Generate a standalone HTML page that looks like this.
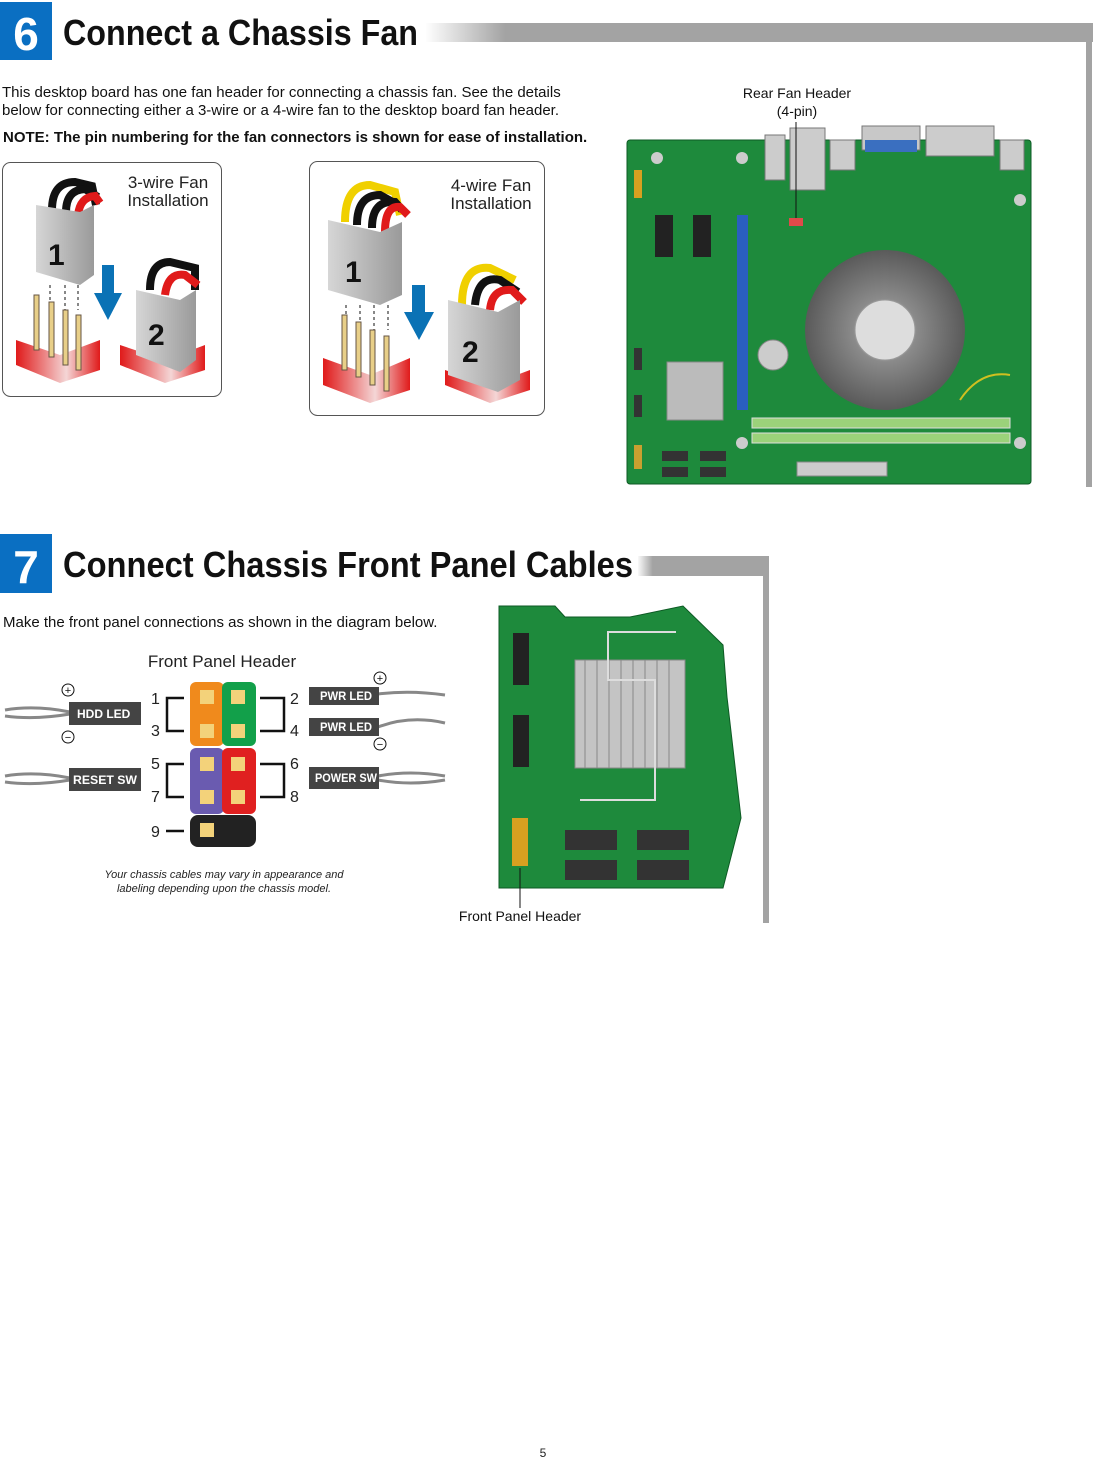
<!DOCTYPE html>
<html><head><meta charset="utf-8"><style>
html,body{margin:0;padding:0;background:#fff;}
svg{display:block;font-family:"Liberation Sans",sans-serif;}
</style></head><body>
<svg width="1093" height="1458" viewBox="0 0 1093 1458" xmlns="http://www.w3.org/2000/svg">
<defs>
<linearGradient id="bar" x1="0" x2="1" y1="0" y2="0"><stop offset="0" stop-color="#fff"/><stop offset="0.12" stop-color="#a3a3a3"/><stop offset="1" stop-color="#a3a3a3"/></linearGradient>
<linearGradient id="red" x1="0" x2="1"><stop offset="0" stop-color="#e01a1a"/><stop offset="0.6" stop-color="#f4d6d6"/><stop offset="1" stop-color="#e01a1a"/></linearGradient>
<linearGradient id="gry" x1="0" x2="1"><stop offset="0" stop-color="#d6d6d6"/><stop offset="1" stop-color="#9a9a9a"/></linearGradient>
<radialGradient id="fan" cx="0.5" cy="0.5" r="0.5"><stop offset="0" stop-color="#e8e8e8"/><stop offset="0.4" stop-color="#8a8a8a"/><stop offset="1" stop-color="#5a5a5a"/></radialGradient>
</defs>

<!-- Section 6 header -->
<rect x="0" y="2" width="52" height="58" fill="#0a6fc2"/>
<text x="26" y="50" text-anchor="middle" font-size="46" fill="#fff" font-weight="bold">6</text>
<rect x="425" y="23" width="668" height="19" fill="url(#bar)"/>
<rect x="1086" y="23" width="6" height="464" fill="#a3a3a3"/>
<rect x="60" y="5" width="366" height="50" fill="#fff"/>
<text x="63" y="45" font-size="36" font-weight="bold" fill="#111" textLength="355" lengthAdjust="spacingAndGlyphs">Connect a Chassis Fan</text>

<text x="2" y="97" font-size="15" fill="#111">This desktop board has one fan header for connecting a chassis fan. See the details</text>
<text x="2" y="115" font-size="15" fill="#111">below for connecting either a 3-wire or a 4-wire fan to the desktop board fan header.</text>
<text x="3" y="142" font-size="15" font-weight="bold" fill="#111">NOTE:  The pin numbering for the fan connectors is shown for ease of installation.</text>

<!-- 3-wire box -->
<rect x="2.5" y="162.5" width="219" height="234" rx="8" fill="#fff" stroke="#555"/>
<text x="168" y="188" text-anchor="middle" font-size="17" fill="#222">3-wire Fan</text>
<text x="168" y="206" text-anchor="middle" font-size="17" fill="#222">Installation</text>
<g>
 <path d="M52 210 Q52 182 75 182 L92 186 L96 205" fill="none" stroke="#111" stroke-width="8"/>
 <path d="M66 212 Q66 190 85 189 L98 197" fill="none" stroke="#111" stroke-width="8"/>
 <path d="M78 215 Q80 197 95 196 L100 203" fill="none" stroke="#e01a1a" stroke-width="8"/>
 <polygon points="36,205 80,212 94,205 94,275 80,285 36,272" fill="url(#gry)"/>
 <text x="48" y="265" font-size="30" font-weight="bold" fill="#111">1</text>
 <line x1="50" y1="285" x2="50" y2="310" stroke="#111" stroke-dasharray="3,3"/>
 <line x1="65" y1="285" x2="65" y2="310" stroke="#111" stroke-dasharray="3,3"/>
 <line x1="78" y1="285" x2="78" y2="310" stroke="#111" stroke-dasharray="3,3"/>
 <polygon points="16,340 60,355 100,340 100,370 60,383 16,365" fill="url(#red)"/>
 <rect x="34" y="295" width="5" height="55" fill="#e8cf88" stroke="#654"/>
 <rect x="49" y="302" width="5" height="55" fill="#e8cf88" stroke="#654"/>
 <rect x="63" y="310" width="5" height="55" fill="#e8cf88" stroke="#654"/>
 <rect x="76" y="315" width="5" height="55" fill="#e8cf88" stroke="#654"/>
 <polygon points="102,265 114,265 114,293 122,293 108,320 94,293 102,293" fill="#0a72b5"/>
 <polygon points="120,345 165,360 205,345 205,370 165,383 120,365" fill="url(#red)"/>
 <path d="M150 290 Q150 262 170 262 L195 268 L195 290" fill="none" stroke="#111" stroke-width="8"/>
 <path d="M165 295 Q168 272 185 275 L198 285" fill="none" stroke="#e01a1a" stroke-width="8"/>
 <polygon points="136,290 180,300 196,290 196,360 180,372 136,355" fill="url(#gry)"/>
 <text x="148" y="345" font-size="30" font-weight="bold" fill="#111">2</text>
</g>

<!-- 4-wire box -->
<rect x="309.5" y="161.5" width="235" height="254" rx="8" fill="#fff" stroke="#555"/>
<text x="491" y="191" text-anchor="middle" font-size="17" fill="#222">4-wire Fan</text>
<text x="491" y="209" text-anchor="middle" font-size="17" fill="#222">Installation</text>
<g>
 <path d="M345 222 Q345 185 370 185 L395 192 L400 215" fill="none" stroke="#f0d000" stroke-width="8"/>
 <path d="M357 225 Q357 195 380 195 L398 205" fill="none" stroke="#111" stroke-width="8"/>
 <path d="M372 228 Q372 200 395 202 L402 210" fill="none" stroke="#111" stroke-width="8"/>
 <path d="M385 232 Q385 205 400 207 L408 215" fill="none" stroke="#e01a1a" stroke-width="8"/>
 <polygon points="328,220 380,232 402,222 402,295 380,305 328,290" fill="url(#gry)"/>
 <text x="345" y="282" font-size="30" font-weight="bold" fill="#111">1</text>
 <line x1="346" y1="305" x2="346" y2="330" stroke="#111" stroke-dasharray="3,3"/>
 <line x1="360" y1="305" x2="360" y2="330" stroke="#111" stroke-dasharray="3,3"/>
 <line x1="374" y1="305" x2="374" y2="330" stroke="#111" stroke-dasharray="3,3"/>
 <line x1="388" y1="305" x2="388" y2="330" stroke="#111" stroke-dasharray="3,3"/>
 <polygon points="323,358 370,375 410,358 410,390 370,403 323,385" fill="url(#red)"/>
 <rect x="342" y="315" width="5" height="55" fill="#e8cf88" stroke="#654"/>
 <rect x="356" y="322" width="5" height="55" fill="#e8cf88" stroke="#654"/>
 <rect x="370" y="330" width="5" height="55" fill="#e8cf88" stroke="#654"/>
 <rect x="384" y="336" width="5" height="55" fill="#e8cf88" stroke="#654"/>
 <polygon points="412,285 425,285 425,312 434,312 419,340 404,312 412,312" fill="#0a72b5"/>
 <polygon points="445,370 490,385 530,370 530,390 490,403 445,385" fill="url(#red)"/>
 <path d="M462 305 Q462 265 490 268 L515 280" fill="none" stroke="#f0d000" stroke-width="8"/>
 <path d="M475 305 Q478 275 500 280 L518 292" fill="none" stroke="#111" stroke-width="8"/>
 <path d="M490 310 Q492 288 512 290 L524 302" fill="none" stroke="#e01a1a" stroke-width="8"/>
 <polygon points="448,300 498,312 520,300 520,380 498,392 448,375" fill="url(#gry)"/>
 <text x="462" y="362" font-size="30" font-weight="bold" fill="#111">2</text>
</g>

<!-- Motherboard -->
<text x="797" y="98" text-anchor="middle" font-size="14" fill="#111">Rear Fan Header</text>
<text x="797" y="116" text-anchor="middle" font-size="14" fill="#111">(4-pin)</text>
<rect x="627" y="140" width="404" height="344" rx="3" fill="#1e8a3c" stroke="#0d5a24"/>
<rect x="765" y="135" width="20" height="45" fill="#ccc" stroke="#777"/>
<rect x="790" y="128" width="35" height="62" fill="#ccc" stroke="#777"/>
<rect x="830" y="140" width="25" height="30" fill="#ccc" stroke="#777"/>
<rect x="862" y="126" width="58" height="24" fill="#c8c8c8" stroke="#777"/>
<rect x="865" y="140" width="52" height="12" fill="#3a6fc0"/>
<rect x="926" y="126" width="68" height="30" fill="#ccc" stroke="#777"/>
<rect x="1000" y="140" width="24" height="30" fill="#ccc" stroke="#777"/>
<line x1="796" y1="122" x2="796" y2="218" stroke="#111"/>
<rect x="789" y="218" width="14" height="8" fill="#e04a4a"/>
<circle cx="657" cy="158" r="6" fill="#ccc"/><circle cx="742" cy="158" r="6" fill="#ccc"/>
<circle cx="1020" cy="200" r="6" fill="#ccc"/><circle cx="742" cy="443" r="6" fill="#ccc"/><circle cx="1020" cy="443" r="6" fill="#ccc"/>
<rect x="655" y="215" width="18" height="42" fill="#222"/><rect x="693" y="215" width="18" height="42" fill="#222"/>
<rect x="737" y="215" width="11" height="195" fill="#2a5fbf"/>
<circle cx="885" cy="330" r="80" fill="url(#fan)"/>
<circle cx="885" cy="330" r="30" fill="#ddd" stroke="#999"/>
<rect x="667" y="362" width="56" height="58" fill="#bbb" stroke="#888"/>
<circle cx="773" cy="355" r="15" fill="#ccc" stroke="#888"/>
<rect x="752" y="418" width="258" height="10" fill="#9bd27a" stroke="#ddd"/>
<rect x="752" y="433" width="258" height="10" fill="#9bd27a" stroke="#ddd"/>
<rect x="797" y="462" width="90" height="14" fill="#ccc" stroke="#888"/>
<rect x="662" y="451" width="26" height="10" fill="#333"/><rect x="700" y="451" width="26" height="10" fill="#333"/>
<rect x="662" y="467" width="26" height="10" fill="#333"/><rect x="700" y="467" width="26" height="10" fill="#333"/>
<rect x="634" y="170" width="8" height="28" fill="#d8a020"/>
<rect x="634" y="348" width="8" height="22" fill="#333"/><rect x="634" y="395" width="8" height="22" fill="#333"/><rect x="634" y="445" width="8" height="24" fill="#c9a030"/>
<path d="M960 400 Q980 370 1010 375" fill="none" stroke="#d0c020" stroke-width="2"/>

<!-- Section 7 -->
<rect x="0" y="534" width="52" height="59" fill="#0a6fc2"/>
<text x="26" y="583" text-anchor="middle" font-size="46" fill="#fff" font-weight="bold">7</text>
<rect x="637" y="556" width="131" height="20" fill="url(#bar)"/>
<rect x="763" y="556" width="6" height="367" fill="#a3a3a3"/>
<rect x="60" y="540" width="578" height="48" fill="#fff"/>
<text x="63" y="577" font-size="36" font-weight="bold" fill="#111" textLength="570" lengthAdjust="spacingAndGlyphs">Connect Chassis Front Panel Cables</text>
<text x="3" y="627" font-size="15" fill="#111">Make the front panel connections as shown in the diagram below.</text>
<text x="222" y="667" text-anchor="middle" font-size="17" fill="#222">Front Panel Header</text>

<!-- header block -->
<rect x="190" y="682" width="34" height="64" rx="6" fill="#f08a1c"/>
<rect x="222" y="682" width="34" height="64" rx="6" fill="#12a04a"/>
<rect x="190" y="748" width="34" height="66" rx="6" fill="#6a5bb0"/>
<rect x="222" y="748" width="34" height="66" rx="6" fill="#e02020"/>
<rect x="190" y="815" width="66" height="32" rx="8" fill="#222"/>
<g fill="#f3d27a"><rect x="200" y="690" width="14" height="14"/><rect x="231" y="690" width="14" height="14"/><rect x="200" y="724" width="14" height="14"/><rect x="231" y="724" width="14" height="14"/><rect x="200" y="757" width="14" height="14"/><rect x="231" y="757" width="14" height="14"/><rect x="200" y="790" width="14" height="14"/><rect x="231" y="790" width="14" height="14"/><rect x="200" y="823" width="14" height="14"/></g>
<g fill="none" stroke="#111" stroke-width="2.5">
<path d="M184 698 H167 V731 H184"/><path d="M260 698 H284 V731 H260"/>
<path d="M184 764 H167 V797 H184"/><path d="M260 764 H284 V797 H260"/>
<path d="M166 831 H184"/></g>
<g font-size="16" fill="#222"><text x="151" y="704">1</text><text x="151" y="736">3</text><text x="151" y="769">5</text><text x="151" y="802">7</text><text x="151" y="837">9</text>
<text x="290" y="704">2</text><text x="290" y="736">4</text><text x="290" y="769">6</text><text x="290" y="802">8</text></g>
<g fill="none" stroke="#888" stroke-width="3"><path d="M5 710 Q35 705 70 712"/><path d="M5 716 Q35 720 70 714"/><path d="M5 776 Q35 771 70 778"/><path d="M5 782 Q35 786 70 780"/>
<path d="M378 694 Q410 690 445 695"/><path d="M378 727 Q410 715 445 723"/><path d="M378 776 Q410 770 445 776"/><path d="M378 780 Q410 786 445 780"/></g>
<g font-size="12" font-weight="bold" fill="#fff">
<rect x="69" y="702" width="72" height="23" fill="#444"/><text x="77" y="718">HDD LED</text>
<rect x="69" y="768" width="72" height="23" fill="#444"/><text x="73" y="784" textLength="64" lengthAdjust="spacingAndGlyphs">RESET SW</text>
<rect x="309" y="687" width="70" height="18" fill="#444"/><text x="320" y="700" textLength="52" lengthAdjust="spacingAndGlyphs">PWR LED</text>
<rect x="309" y="718" width="70" height="18" fill="#444"/><text x="320" y="731" textLength="52" lengthAdjust="spacingAndGlyphs">PWR LED</text>
<rect x="309" y="767" width="70" height="22" fill="#444"/><text x="315" y="782" textLength="62" lengthAdjust="spacingAndGlyphs">POWER SW</text></g>
<g fill="none" stroke="#111"><circle cx="68" cy="690" r="6"/><circle cx="68" cy="737" r="6"/><circle cx="380" cy="678" r="6"/><circle cx="380" cy="744" r="6"/></g>
<g font-size="11" fill="#111" text-anchor="middle"><text x="68" y="694">+</text><text x="68" y="741">−</text><text x="380" y="682">+</text><text x="380" y="748">−</text></g>
<text x="224" y="878" text-anchor="middle" font-size="11" font-style="italic" fill="#222">Your chassis cables may vary in appearance and</text>
<text x="224" y="892" text-anchor="middle" font-size="11" font-style="italic" fill="#222">labeling depending upon the chassis model.</text>

<!-- board 2 -->
<polygon points="499,606 555,606 565,617 630,617 683,606 723,645 727,697 741,818 723,888 499,888" fill="#1e8a3c" stroke="#0d5a24"/>
<rect x="575" y="660" width="110" height="108" fill="#c4c4c4" stroke="#888"/>
<g stroke="#888">
<line x1="585" y1="660" x2="585" y2="768"/><line x1="597" y1="660" x2="597" y2="768"/><line x1="609" y1="660" x2="609" y2="768"/><line x1="621" y1="660" x2="621" y2="768"/><line x1="633" y1="660" x2="633" y2="768"/><line x1="645" y1="660" x2="645" y2="768"/><line x1="657" y1="660" x2="657" y2="768"/><line x1="669" y1="660" x2="669" y2="768"/></g>
<path d="M676 632 H608 V680 H655 V800 H580" fill="none" stroke="#ddd" stroke-width="2"/>
<rect x="513" y="633" width="16" height="52" fill="#222"/><rect x="513" y="715" width="16" height="52" fill="#222"/>
<rect x="512" y="818" width="16" height="48" fill="#d8a020"/>
<g fill="#333"><rect x="565" y="830" width="52" height="20"/><rect x="637" y="830" width="52" height="20"/><rect x="565" y="860" width="52" height="20"/><rect x="637" y="860" width="52" height="20"/></g>
<line x1="520" y1="868" x2="520" y2="908" stroke="#111"/>
<text x="520" y="921" text-anchor="middle" font-size="14" fill="#111">Front Panel Header</text>

<text x="543" y="1457" text-anchor="middle" font-size="12" fill="#222">5</text>
</svg>
</body></html>
